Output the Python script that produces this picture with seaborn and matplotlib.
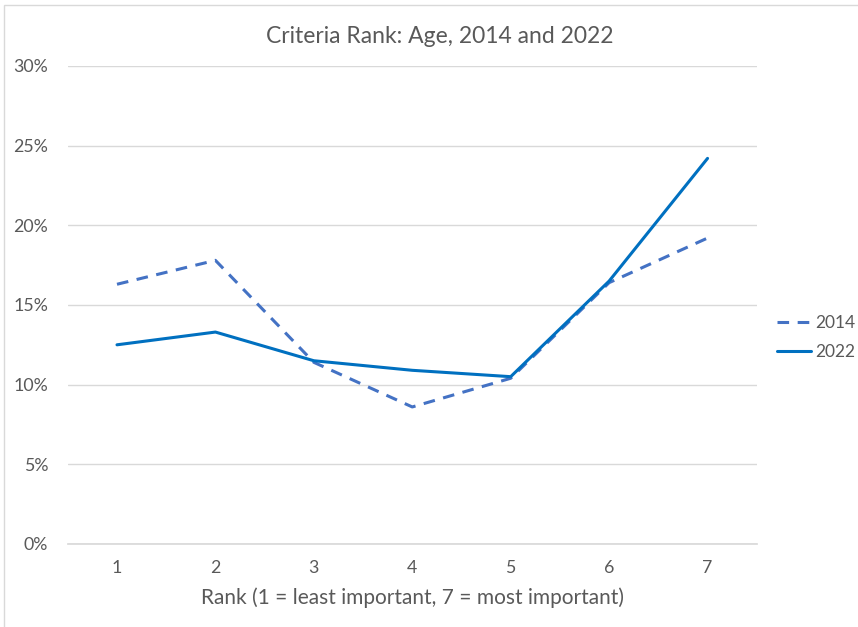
import matplotlib
matplotlib.use("Agg")
import matplotlib.pyplot as plt
import matplotlib.patches as mpatches
from matplotlib.ticker import PercentFormatter
import seaborn as sns
import pandas as pd

ranks = [1, 2, 3, 4, 5, 6, 7]
share_2014 = [16.3, 17.8, 11.4, 8.6, 10.4, 16.4, 19.2]
share_2022 = [12.5, 13.3, 11.5, 10.9, 10.5, 16.5, 24.2]
series_names = ["2014", "2022"]
y_ticks = [0, 5, 10, 15, 20, 25, 30]

df = pd.DataFrame({
    "Rank": ranks * 2,
    "Share": share_2014 + share_2022,
    "Year": [series_names[0]] * len(ranks) + [series_names[1]] * len(ranks),
})

sns.set_theme(style="white")
plt.rcParams["font.family"] = ["Lato", "DejaVu Sans"]
text_grey = "#595959"

fig = plt.figure(figsize=(8.58, 6.27), dpi=100)
ax = fig.add_axes([0.079, 0.1324, 0.803, 0.7624])

palette = {"2014": "#4472C4", "2022": "#0070C0"}
dash_pattern = (3.8, 2.8)
dashes = {"2014": dash_pattern, "2022": ""}
sns.lineplot(data=df, x="Rank", y="Share", hue="Year", style="Year",
             palette=palette, dashes=dashes, linewidth=2.2, ax=ax,
             legend=False)

ax.set_xlim(0.5, 7.5)
ax.set_ylim(0, 30)
ax.set_yticks(y_ticks)
ax.set_xticks(ranks)
ax.yaxis.set_major_formatter(PercentFormatter(decimals=0))
ax.grid(axis="y", color="#D9D9D9", linewidth=1)
ax.set_axisbelow(True)
for side in ["top", "right", "left"]:
    ax.spines[side].set_visible(False)
ax.spines["bottom"].set_color("#D9D9D9")
ax.tick_params(axis="both", length=0, labelsize=12.8, colors=text_grey)
ax.tick_params(axis="x", pad=11.5)
ax.tick_params(axis="y", pad=14)
ax.set_xlabel("Rank (1 = least important, 7 = most important)",
              fontsize=15, color=text_grey, labelpad=8)
ax.set_ylabel("")
fig.suptitle("Criteria Rank: Age, 2014 and 2022", x=0.513, y=0.959,
             fontsize=16.5, color=text_grey)

handles = [
    plt.Line2D([], [], color=palette["2014"], linewidth=2.2, dashes=dash_pattern),
    plt.Line2D([], [], color=palette["2022"], linewidth=2.2),
]
fig.legend(handles, series_names, loc="center left",
           bbox_to_anchor=(0.887, 0.462), frameon=False, fontsize=12.5,
           labelcolor=text_grey, handlelength=2.0, handletextpad=0.2,
           labelspacing=0.75)

fig.patches.append(mpatches.Rectangle((4 / 858, -0.05), 1.1, 1 - 5 / 627 + 0.05,
                                      transform=fig.transFigure, fill=False,
                                      edgecolor="#D9D9D9", linewidth=1))

fig.savefig("out.png", dpi=100)
